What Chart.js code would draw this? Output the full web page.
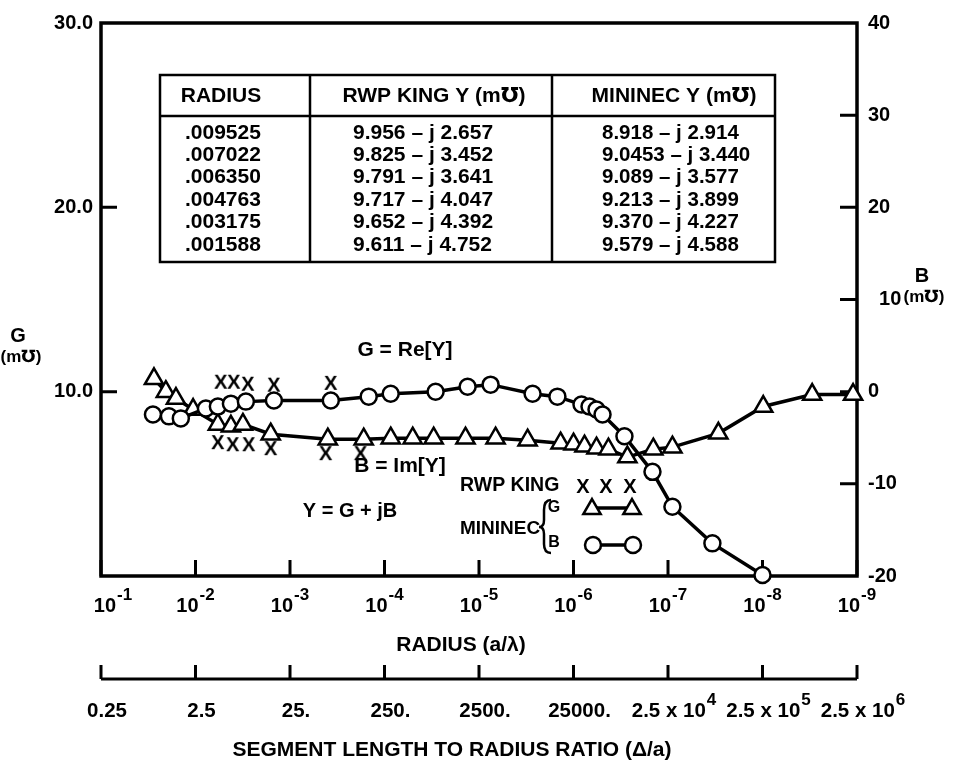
<!DOCTYPE html>
<html>
<head>
<meta charset="utf-8">
<script src="https://cdn.jsdelivr.net/npm/chart.js@4.4.0/dist/chart.umd.min.js"></script>
<style>
  html, body { margin: 0; padding: 0; background: #fff; }
  #wrap { width: 956px; height: 762px; }
</style>
</head>
<body>
<div id="wrap"><canvas id="chart" width="956" height="762"></canvas></div>
<script>
// --- Données ---
const decadeTicks = [1e-1, 1e-2, 1e-3, 1e-4, 1e-5, 1e-6, 1e-7, 1e-8, 1e-9];
const decadeExponents = ['-1', '-2', '-3', '-4', '-5', '-6', '-7', '-8', '-9'];
const ratioLabels = [['0.25', ''], ['2.5', ''], ['25.', ''], ['250.', ''], ['2500.', ''], ['25000.', ''],
  ['2.5 x 10', '4'], ['2.5 x 10', '5'], ['2.5 x 10', '6']];
const gTicks = [10, 20];
const bTicks = [30, 20, 10, 0, -10];

// MININEC, cercles (G, axe gauche)
const mininecRadiusG = [2.82e-2, 1.91e-2, 1.43e-2, 7.76e-3, 5.80e-3, 4.22e-3, 2.93e-3, 1.48e-3, 3.70e-4, 1.47e-4,
  8.6e-5, 2.88e-5, 1.32e-5, 7.54e-6, 2.71e-6, 1.48e-6, 8.23e-7, 6.77e-7, 5.71e-7, 4.93e-7, 2.89e-7, 1.46e-7,
  8.98e-8, 3.39e-8, 1.00e-8];
const mininecG = [8.76, 8.66, 8.55, 9.09, 9.19, 9.35, 9.46, 9.52, 9.52, 9.73,
  9.89, 10.0, 10.27, 10.38, 9.89, 9.73, 9.30, 9.19, 9.03, 8.76, 7.58, 5.65,
  3.76, 1.77, 0.05];

// MININEC, triangles (B, axe droit)
const mininecRadiusB = [2.75e-2, 2.06e-2, 1.61e-2, 1.06e-2, 5.80e-3, 4.22e-3, 3.15e-3, 1.60e-3, 3.98e-4, 1.66e-4,
  8.59e-5, 5.03e-5, 3.02e-5, 1.39e-5, 6.68e-6, 3.06e-6, 1.37e-6, 1.00e-6, 7.65e-7, 5.71e-7, 4.27e-7, 2.69e-7,
  1.43e-7, 8.98e-8, 2.93e-8, 9.82e-9, 2.98e-9, 1.10e-9];
const mininecB = [1.40, 0.0, -0.75, -1.94, -3.55, -3.76, -3.55, -4.62, -5.16, -5.16,
  -5.05, -5.05, -5.05, -5.05, -5.05, -5.27, -5.59, -5.70, -5.91, -6.13, -6.24, -7.10,
  -6.24, -6.02, -4.52, -1.61, -0.32, -0.32];

// RWP King (X)
const kingRadiusG = [5.40e-3, 3.93e-3, 2.79e-3, 1.48e-3, 3.70e-4];
const kingG = [10.54, 10.54, 10.43, 10.38, 10.48];
const kingRadiusB = [5.80e-3, 4.03e-3, 2.73e-3, 1.60e-3, 4.19e-4, 1.79e-4];
const kingB = [-5.48, -5.70, -5.70, -6.13, -6.67, -6.67];

// Tableau
const tableRadius = ['.009525', '.007022', '.006350', '.004763', '.003175', '.001588'];
const tableKing = ['9.956 \u2013 j 2.657', '9.825 \u2013 j 3.452', '9.791 \u2013 j 3.641', '9.717 \u2013 j 4.047', '9.652 \u2013 j 4.392', '9.611 \u2013 j 4.752'];
const tableMininec = ['8.918 \u2013 j 2.914', '9.0453 \u2013 j 3.440', '9.089 \u2013 j 3.577', '9.213 \u2013 j 3.899', '9.370 \u2013 j 4.227', '9.579 \u2013 j 4.588'];

const FONT = '"Liberation Sans", Arial, "DejaVu Sans", sans-serif';
const MHO = '\u2127';
const pts = (xs, ys) => xs.map((v, i) => ({ x: v, y: ys[i] }));

function bold(size) { return 'bold ' + size + 'px ' + FONT; }

// marqueur "X" en caractère gras, comme sur la figure
function makeXMark(size) {
  const c = document.createElement('canvas');
  c.width = size; c.height = size;
  const g = c.getContext('2d');
  g.fillStyle = '#000';
  g.font = bold(size);
  g.textAlign = 'center';
  g.textBaseline = 'middle';
  g.fillText('X', size / 2, size / 2 + 1);
  return c;
}
const xMark = makeXMark(20);

function drawPower(ctx, base, sup, cx, y, size, supSize, rise) {
  ctx.font = bold(size);
  const wb = ctx.measureText(base).width;
  ctx.font = bold(supSize);
  const ws = sup ? ctx.measureText(sup).width + 1 : 0;
  const start = cx - (wb + ws) / 2;
  ctx.textAlign = 'left';
  ctx.textBaseline = 'alphabetic';
  ctx.font = bold(size);
  ctx.fillText(base, start, y);
  if (sup) {
    ctx.font = bold(supSize);
    ctx.fillText(sup, start + wb + 1, y - rise);
  }
}

function text(ctx, s, x, y, size, align) {
  ctx.font = bold(size);
  ctx.textAlign = align || 'center';
  ctx.textBaseline = 'middle';
  ctx.fillText(s, x, y);
}

function circle(ctx, x, y, r) {
  ctx.beginPath();
  ctx.arc(x, y, r, 0, Math.PI * 2);
  ctx.fill();
  ctx.stroke();
}

function triangle(ctx, x, y, r) {
  ctx.beginPath();
  ctx.moveTo(x, y - r);
  ctx.lineTo(x + r * 0.866, y + r * 0.5);
  ctx.lineTo(x - r * 0.866, y + r * 0.5);
  ctx.closePath();
  ctx.fill();
  ctx.stroke();
}

// --- Cadre et graduations (sous les points) ---
const frame = {
  id: 'frame',
  beforeDatasetsDraw(chart) {
    const ctx = chart.ctx;
    const { left, right, top, bottom } = chart.chartArea;
    const sx = chart.scales.x, sg = chart.scales.yG, sb = chart.scales.yB;
    ctx.save();
    ctx.strokeStyle = '#000';
    ctx.lineWidth = 3.5;
    ctx.strokeRect(left, top, right - left, bottom - top);
    ctx.lineWidth = 3;
    ctx.beginPath();
    decadeTicks.forEach(v => {
      const px = sx.getPixelForValue(v);
      ctx.moveTo(px, bottom);
      ctx.lineTo(px, bottom - 16);
    });
    gTicks.forEach(v => {
      const py = sg.getPixelForValue(v);
      ctx.moveTo(left, py);
      ctx.lineTo(left + 16, py);
    });
    bTicks.forEach(v => {
      const py = sb.getPixelForValue(v);
      ctx.moveTo(right, py);
      ctx.lineTo(right - 17, py);
    });
    ctx.stroke();
    ctx.restore();
  }
};

// --- Textes, tableau, légende, second axe ---
const decor = {
  id: 'decor',
  afterDraw(chart) {
    const ctx = chart.ctx;
    const sx = chart.scales.x;
    ctx.save();
    ctx.fillStyle = '#000';
    ctx.strokeStyle = '#000';

    // étiquettes 10^-n
    decadeTicks.forEach((v, i) => {
      const px = sx.getPixelForValue(v) + (i === 0 ? 12 : 0);
      drawPower(ctx, '10', decadeExponents[i], px, 612, 20, 17, 12);
    });
    text(ctx, 'RADIUS (a/\u03bb)', 461, 645, 21);

    // second axe : rapport segment / rayon
    const axisY = 679;
    ctx.lineWidth = 3;
    ctx.beginPath();
    ctx.moveTo(sx.getPixelForValue(decadeTicks[0]), axisY);
    ctx.lineTo(sx.getPixelForValue(decadeTicks[decadeTicks.length - 1]), axisY);
    decadeTicks.forEach(v => {
      const px = sx.getPixelForValue(v);
      ctx.moveTo(px, axisY);
      ctx.lineTo(px, axisY - 14);
    });
    ctx.stroke();
    ratioLabels.forEach((lab, i) => {
      const px = sx.getPixelForValue(decadeTicks[i]) + 6;
      drawPower(ctx, lab[0], lab[1], px, 717, 20.5, 17, 12);
    });
    text(ctx, 'SEGMENT LENGTH TO RADIUS RATIO (\u0394/a)', 452, 750, 21);

    // titres des axes Y
    text(ctx, 'G', 18, 336, 20);
    text(ctx, '(m' + MHO + ')', 21, 357, 17);
    text(ctx, 'B', 922, 276, 20);
    text(ctx, '(m' + MHO + ')', 924, 297, 17);

    // annotations
    text(ctx, 'G = Re[Y]', 405, 350, 21);
    text(ctx, 'B = Im[Y]', 400, 466, 21);
    text(ctx, 'Y = G + jB', 350, 511, 20);

    // tableau
    const tL = 160, tR = 775, tT = 75, tH = 116, tB = 262, c1 = 310, c2 = 552;
    ctx.lineWidth = 2.5;
    ctx.strokeRect(tL, tT, tR - tL, tB - tT);
    ctx.beginPath();
    ctx.moveTo(tL, tH); ctx.lineTo(tR, tH);
    ctx.moveTo(c1, tT); ctx.lineTo(c1, tB);
    ctx.moveTo(c2, tT); ctx.lineTo(c2, tB);
    ctx.stroke();
    text(ctx, 'RADIUS', 221, 96, 21);
    text(ctx, 'RWP KING Y (m' + MHO + ')', 434, 96, 21);
    text(ctx, 'MININEC Y (m' + MHO + ')', 674, 96, 21);
    const rowY = [133, 155, 177, 200, 222, 245];
    rowY.forEach((y, i) => {
      text(ctx, tableRadius[i], 185, y, 21, 'left');
      text(ctx, tableKing[i], 353, y, 21, 'left');
      text(ctx, tableMininec[i], 602, y, 20.5, 'left');
    });

    // légende
    text(ctx, 'RWP KING', 460, 486, 19.5, 'left');
    [583, 606, 630].forEach(x => {
      ctx.drawImage(xMark, x - 10, 486 - 10);
    });
    text(ctx, 'MININEC', 460, 529, 19, 'left');
    // accolade
    ctx.lineWidth = 2.5;
    ctx.beginPath();
    ctx.moveTo(551, 500);
    ctx.quadraticCurveTo(544, 500, 544, 510);
    ctx.lineTo(544, 520);
    ctx.quadraticCurveTo(544, 527, 539, 527);
    ctx.quadraticCurveTo(544, 527, 544, 534);
    ctx.lineTo(544, 544);
    ctx.quadraticCurveTo(544, 553, 551, 553);
    ctx.stroke();
    text(ctx, 'G', 554, 508, 16, 'center');
    text(ctx, 'B', 554, 543, 16, 'center');
    ctx.fillStyle = '#fff';
    ctx.lineWidth = 3.5;
    ctx.beginPath(); ctx.moveTo(592, 508); ctx.lineTo(632, 508); ctx.stroke();
    ctx.lineWidth = 2.5;
    triangle(ctx, 592, 509, 10);
    triangle(ctx, 632, 509, 10);
    ctx.lineWidth = 3.5;
    ctx.beginPath(); ctx.moveTo(593, 545); ctx.lineTo(633, 545); ctx.stroke();
    ctx.lineWidth = 2.5;
    circle(ctx, 593, 545, 8);
    circle(ctx, 633, 545, 8);
    ctx.restore();
  }
};

const tickFont = { family: FONT, size: 20, weight: 'bold' };

new Chart(document.getElementById('chart'), {
  type: 'scatter',
  data: {
    datasets: [
      {
        label: 'MININEC G',
        data: pts(mininecRadiusG, mininecG),
        yAxisID: 'yG',
        showLine: true,
        borderColor: '#000',
        borderWidth: 3.5,
        pointStyle: 'circle',
        pointRadius: 8,
        pointBorderWidth: 2.5,
        pointBackgroundColor: '#fff',
        pointBorderColor: '#000',
        clip: false
      },
      {
        label: 'MININEC B',
        data: pts(mininecRadiusB, mininecB),
        yAxisID: 'yB',
        showLine: true,
        borderColor: '#000',
        borderWidth: 3.5,
        pointStyle: 'triangle',
        pointRadius: 10.5,
        pointBorderWidth: 2.5,
        pointBackgroundColor: '#fff',
        pointBorderColor: '#000',
        clip: false
      },
      {
        label: 'RWP KING G',
        data: pts(kingRadiusG, kingG),
        yAxisID: 'yG',
        showLine: false,
        pointStyle: xMark,
        pointRadius: 10,
        clip: false
      },
      {
        label: 'RWP KING B',
        data: pts(kingRadiusB, kingB),
        yAxisID: 'yB',
        showLine: false,
        pointStyle: xMark,
        pointRadius: 10,
        clip: false
      }
    ]
  },
  options: {
    responsive: false,
    animation: false,
    layout: { padding: { top: 18, left: 0, right: 0, bottom: 0 } },
    plugins: { legend: { display: false }, tooltip: { enabled: false } },
    scales: {
      x: {
        type: 'logarithmic',
        min: 1e-9,
        max: 1e-1,
        reverse: true,
        ticks: { display: false },
        grid: { display: false, drawTicks: false },
        border: { display: false },
        afterFit: s => { s.height = 186; }
      },
      yG: {
        type: 'linear',
        position: 'left',
        min: 0,
        max: 30,
        ticks: {
          stepSize: 10,
          padding: 8,
          color: '#000',
          font: tickFont,
          callback: v => (v === 0 ? '' : v.toFixed(1))
        },
        grid: { display: false, drawTicks: false },
        border: { display: false },
        afterFit: s => { s.width = 101; }
      },
      yB: {
        type: 'linear',
        position: 'right',
        min: -20,
        max: 40,
        ticks: {
          stepSize: 10,
          padding: 11,
          color: '#000',
          font: tickFont,
          callback: v => (v === 10 ? '  10' : String(v))
        },
        grid: { display: false, drawTicks: false },
        border: { display: false },
        afterFit: s => { s.width = 99; }
      }
    }
  },
  plugins: [frame, decor]
});
</script>
</body>
</html>
